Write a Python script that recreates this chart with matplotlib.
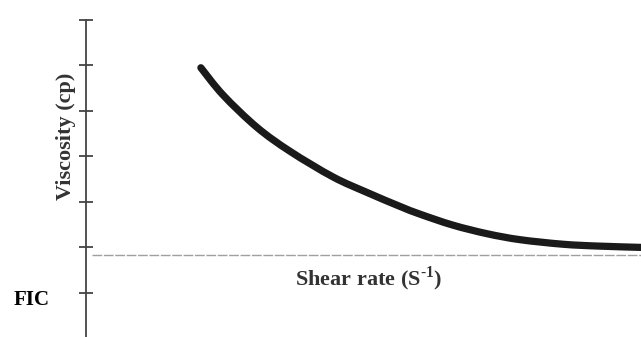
import matplotlib.pyplot as plt
from matplotlib.path import Path
from matplotlib.patches import PathPatch

# curve (shear rate, viscosity), arbitrary units
shear_rate = [2.07, 2.47, 3.08, 3.68, 4.45, 5.06, 5.66, 6.02, 6.61, 7.23, 7.82, 8.59, 9.21, 10.0]
viscosity = [4.95, 4.35, 3.64, 3.11, 2.55, 2.21, 1.90, 1.73, 1.49, 1.30, 1.17, 1.07, 1.03, 1.00]
y_ticks = [0, 1, 2, 3, 4, 5, 6]
baseline = 0.84


def smooth_path(xs, ys):
    # catmull-rom through the read points, drawn as cubic beziers
    pts = list(zip(xs, ys))
    verts = [pts[0]]
    codes = [Path.MOVETO]
    for i in range(len(pts) - 1):
        p0 = pts[i - 1] if i > 0 else pts[i]
        p1, p2 = pts[i], pts[i + 1]
        p3 = pts[i + 2] if i + 2 < len(pts) else pts[i + 1]
        c1 = (p1[0] + (p2[0] - p0[0]) / 6, p1[1] + (p2[1] - p0[1]) / 6)
        c2 = (p2[0] - (p3[0] - p1[0]) / 6, p2[1] - (p3[1] - p1[1]) / 6)
        verts += [c1, c2, p2]
        codes += [Path.CURVE4] * 3
    return Path(verts, codes)


W, H = 641, 337
fig = plt.figure(figsize=(W / 100, H / 100), dpi=100)
ax = fig.add_axes([86 / W, 0, (W - 86) / W, (H - 20) / H])

ax.add_patch(PathPatch(smooth_path(shear_rate, viscosity), fill=False, edgecolor='#1a1a1a',
                       linewidth=5.2, capstyle='round', joinstyle='round'))
ax.axhline(baseline, xmin=6 / 555, xmax=1, color='#a0a0a0', linewidth=1.0, linestyle=(0, (7, 1.2)))

ax.set_xlim(0, 10)
ax.set_ylim(-0.97, 6)
ax.set_xticks([])
ax.set_yticks(y_ticks)
ax.set_yticklabels([])
ax.tick_params(axis='y', direction='inout', length=10, width=1.3, color='#444444')
for s in ['top', 'right', 'bottom']:
    ax.spines[s].set_visible(False)
ax.spines['left'].set_color('#444444')
ax.spines['left'].set_linewidth(1.3)

serif = ['Liberation Serif', 'DejaVu Serif']
fig.text(66 / W, 1 - 136 / H, 'Viscosity (cp)', rotation=90, ha='center', va='center',
         fontsize=16, fontweight='bold', family=serif, color='#333333')
fig.text(369 / W, 1 - 279 / H, 'Shear rate (S$^{\\mathregular{‐1}}$)', ha='center', va='center',
         fontsize=16, fontweight='bold', family=serif, color='#333333')
fig.text(14 / W, 1 - 300 / H, 'FIC', ha='left', va='center', fontsize=15,
         fontweight='bold', family=serif, color='black')

fig.savefig('out.png', dpi=100)
